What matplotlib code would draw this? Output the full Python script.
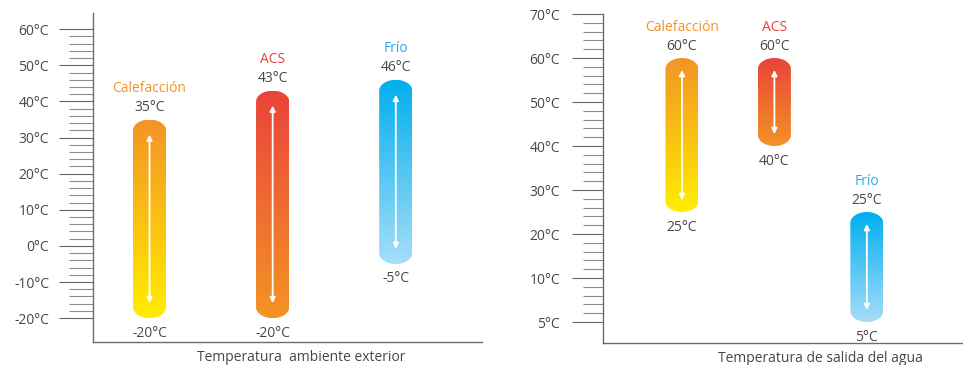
import numpy as np
import matplotlib
matplotlib.use("Agg")
import matplotlib.pyplot as plt
from matplotlib.patches import Polygon
from matplotlib.colors import to_rgb

plt.rcParams['font.family'] = ['Open Sans', 'DejaVu Sans']

# data
modes = ["Calefacción", "ACS", "Frío"]
amb_low = [-20, -20, -5]
amb_high = [35, 43, 46]
water_low = [25, 40, 5]
water_high = [60, 60, 25]

amb_ticks = [-20, -10, 0, 10, 20, 30, 40, 50, 60]
water_ticks = [5, 10, 20, 30, 40, 50, 60, 70]

mode_colors = ["#F39325", "#E8413C", "#2FA8E0"]
grad_top = ["#F39325", "#E9433A", "#00AEEF"]
grad_bottom = ["#FFED00", "#F39325", "#A6DDF8"]

TXT = "#474747"
AX = "#6b6b6b"

fig = plt.figure(figsize=(9.63, 3.65), dpi=100)
W, H = 963, 365


def water_fwd(y):
    y = np.asarray(y, dtype=float)
    return np.where(y < 10, 2 * y - 10, y)


def water_inv(z):
    z = np.asarray(z, dtype=float)
    return np.where(z < 10, (z + 10) / 2, z)


def pill(ax, x, lo, hi, w, ry, c_top, c_bot, n=120):
    # outline: rectangle with half-ellipse caps (ry in linear units)
    t = np.linspace(0, np.pi, 40)
    zlo, zhi = ax._fwd(lo), ax._fwd(hi)
    top = np.column_stack([x + w / 2 * np.cos(t), zhi - ry + ry * np.sin(t)])
    bot = np.column_stack([x - w / 2 * np.cos(t), zlo + ry - ry * np.sin(t)])
    pts = np.vstack([top, bot])
    pts[:, 1] = ax._inv(pts[:, 1])
    poly = Polygon(pts, closed=True, facecolor="none", edgecolor="none")
    ax.add_patch(poly)
    edges = np.linspace(zlo, zhi, n + 1)
    c0, c1 = np.array(to_rgb(c_bot)), np.array(to_rgb(c_top))
    for k in range(n):
        f = (k + 0.5) / n
        b0, b1 = ax._inv(edges[k]), ax._inv(edges[k + 1])
        bars = ax.bar(x, b1 - b0, bottom=b0, width=w, color=c0 + (c1 - c0) * f,
                      linewidth=0, zorder=2)
        for r in bars:
            r.set_clip_path(poly)


def panel(ax, lows, highs, w, ry, pad, px):
    for i, m in enumerate(modes):
        lo, hi = lows[i], highs[i]
        pill(ax, i, lo, hi, w, ry, grad_top[i], grad_bottom[i])
        zlo, zhi = ax._fwd(lo), ax._fwd(hi)
        ax.annotate("", xy=(i, ax._inv(zhi - pad)), xytext=(i, ax._inv(zlo + pad)),
                    arrowprops=dict(arrowstyle="<|-|>", color="white", lw=1.3,
                                    mutation_scale=8, shrinkA=0, shrinkB=0),
                    zorder=3)
        ax.annotate(f"{hi}°C", (i, hi), xytext=(0, 12 * px), textcoords="offset points",
                    ha="center", va="center", fontsize=10, color=TXT)
        ax.annotate(m, (i, hi), xytext=(0, 31 * px), textcoords="offset points",
                    ha="center", va="center", fontsize=10, color=mode_colors[i])
        ax.annotate(f"{lo}°C", (i, lo), xytext=(0, -15 * px), textcoords="offset points",
                    ha="center", va="center", fontsize=10, color=TXT)


def style(ax):
    for s in ["top", "right"]:
        ax.spines[s].set_visible(False)
    for s in ["left", "bottom"]:
        ax.spines[s].set_color(AX)
        ax.spines[s].set_linewidth(1.0)
    ax.set_xticks([])
    ax.tick_params(axis="y", which="both", colors="#777777", width=0.8,
                   labelcolor=TXT, labelsize=10)


px = 72 / 100

# left panel: ambient temperature
ax1 = fig.add_axes([93 / W, 23 / H, 389 / W, 329 / H])
ax1._fwd = lambda v: np.asarray(v, dtype=float)
ax1._inv = lambda v: np.asarray(v, dtype=float)
ax1.set_xlim(-0.459, 2.70)
ax1.set_ylim(-26.6, 64.5)
ax1.set_yticks(amb_ticks)
ax1.set_yticklabels([f"{t}°C" for t in amb_ticks])
ax1.set_yticks([v for v in range(-20, 61, 2) if v % 10], minor=True)
style(ax1)
ax1.tick_params(axis="y", which="major", length=34 * px, pad=10 * px, color="#666666")
ax1.tick_params(axis="y", which="minor", length=24 * px, color="#8c8c8c")
panel(ax1, amb_low, amb_high, 0.27, 11 / 3.61, 15 / 3.61, px)
ax1.text(0.536, -0.046, "Temperatura  ambiente exterior", transform=ax1.transAxes,
         ha="center", va="center", fontsize=10, color=TXT)

# right panel: water outlet temperature
ax2 = fig.add_axes([603 / W, 22 / H, 360 / W, 329 / H])
ax2.set_yscale("function", functions=(water_fwd, water_inv))
ax2._fwd = water_fwd
ax2._inv = water_inv
ax2.set_xlim(-0.854, 3.04)
ax2.set_ylim(float(water_inv(-4.77)), 70.0)
ax2.set_yticks(water_ticks)
ax2.set_yticklabels([f"{t}°C" for t in water_ticks])
ax2.set_yticks([6, 7, 8, 9] + [v for v in range(12, 70, 2) if v % 10], minor=True)
style(ax2)
ax2.tick_params(axis="y", which="major", length=31 * px, pad=12 * px, color="#666666")
ax2.tick_params(axis="y", which="minor", length=20 * px, color="#8c8c8c")
panel(ax2, water_low, water_high, 0.357, 11 / 4.4, 12 / 4.4, px)
ax2.text(0.603, -0.046, "Temperatura de salida del agua", transform=ax2.transAxes,
         ha="center", va="center", fontsize=10, color=TXT)

fig.savefig("out.png", dpi=100)
